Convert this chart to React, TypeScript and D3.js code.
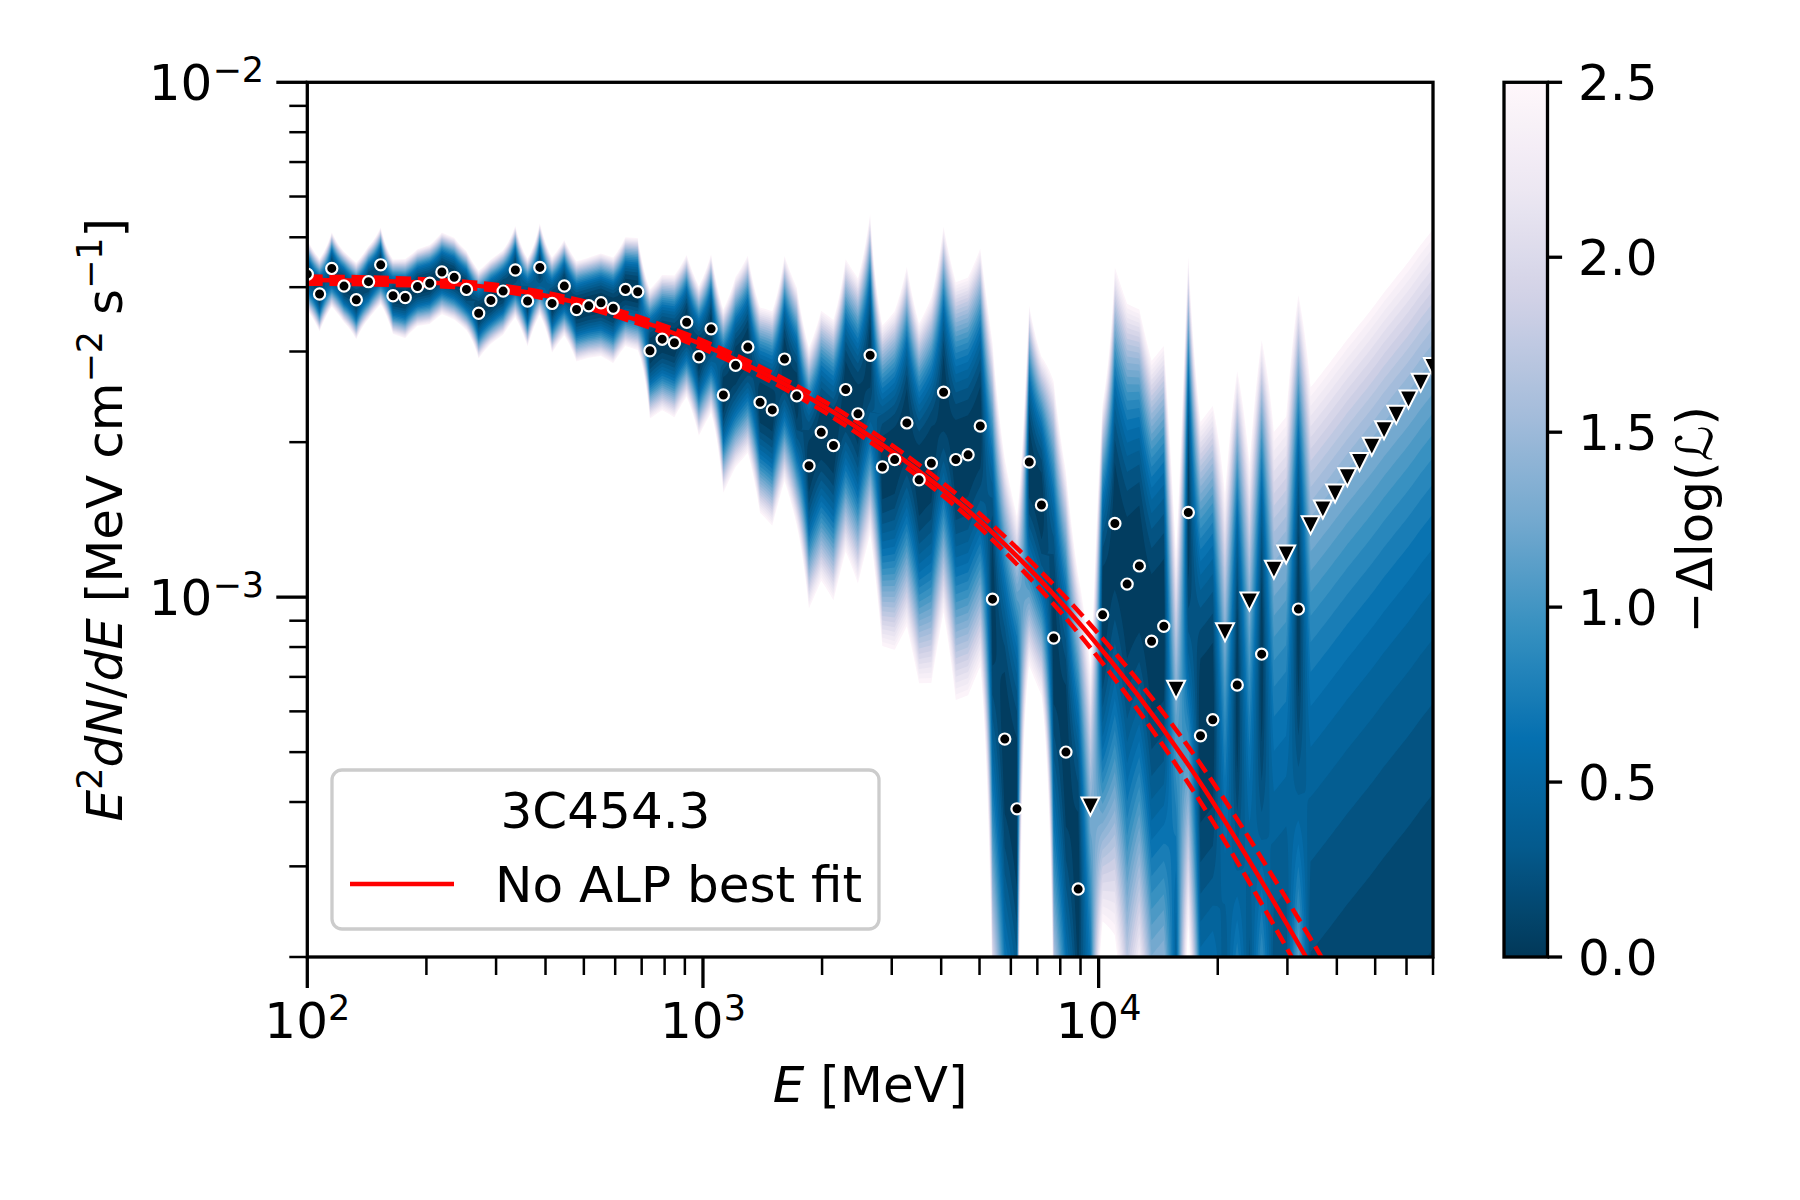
import React, { useMemo } from "react";
import * as d3 from "d3";

const width = 1800;
const height = 1200;
const plot = { left: 307.3, right: 1433, top: 82.3, bottom: 957 };
const bar = { left: 1504, right: 1547.5 };
const font = "DejaVu Sans";

// energy bin centres [MeV]
const binEnergy = [
  100, 107.4, 115.3, 123.8, 133.0, 142.8, 153.3, 164.7, 176.8, 189.9,
  203.9, 218.9, 235.1, 252.5, 271.1, 291.1, 312.6, 335.6, 360.4, 387.0,
  415.6, 446.2, 479.2, 514.5, 552.5, 593.3, 637.1, 684.1, 734.6, 788.8,
  847.0, 909.5, 976.6, 1048.7, 1126.1, 1209.2, 1298.4, 1394.2, 1497.1, 1607.6,
  1726.2, 1853.6, 1990.4, 2137.3, 2295.0, 2464.4, 2646.2, 2841.5, 3051.2, 3276.4,
  3518.2, 3777.8, 4056.6, 4356.0, 4677.4, 5022.6, 5393.2, 5791.2, 6218.6, 6677.5,
  7170.3, 7699.4, 8267.6, 8877.7, 9532.8, 10236, 10992, 11803, 12674, 13609,
  14613, 15692, 16850, 18093, 19429, 20862, 22401, 24054, 25829, 27735,
  29782, 31980, 34340, 36874, 39595, 42517, 45654, 49023, 52641, 56525,
  60697, 65176, 69985,
];

// best-fit flux per bin (upper limit value for the UL bins) [MeV cm^-2 s^-1]
const binFlux = [
  4.24e-3, 3.88e-3, 4.35e-3, 4.02e-3, 3.78e-3, 4.1e-3, 4.42e-3, 3.85e-3, 3.82e-3, 4.01e-3,
  4.07e-3, 4.28e-3, 4.18e-3, 3.96e-3, 3.56e-3, 3.77e-3, 3.93e-3, 4.32e-3, 3.76e-3, 4.37e-3,
  3.72e-3, 4.02e-3, 3.62e-3, 3.68e-3, 3.73e-3, 3.64e-3, 3.96e-3, 3.92e-3, 3.01e-3, 3.17e-3,
  3.12e-3, 3.42e-3, 2.93e-3, 3.32e-3, 2.47e-3, 2.82e-3, 3.06e-3, 2.39e-3, 2.31e-3, 2.9e-3,
  2.46e-3, 1.8e-3, 2.09e-3, 1.97e-3, 2.53e-3, 2.27e-3, 2.95e-3, 1.79e-3, 1.85e-3, 2.18e-3,
  1.69e-3, 1.82e-3, 2.5e-3, 1.85e-3, 1.89e-3, 2.15e-3, 9.91e-4, 5.3e-4, 3.88e-4, 1.83e-3,
  1.51e-3, 8.33e-4, 5.0e-4, 2.71e-4, 3.92e-4, 9.24e-4, 1.39e-3, 1.06e-3, 1.15e-3, 8.21e-4,
  8.78e-4, 6.61e-4, 1.46e-3, 5.38e-4, 5.78e-4, 8.55e-4, 6.75e-4, 9.81e-4, 7.75e-4, 1.13e-3,
  1.21e-3, 9.48e-4, 1.38e-3, 1.48e-3, 1.59e-3, 1.71e-3, 1.83e-3, 1.96e-3, 2.11e-3, 2.26e-3,
  2.42e-3, 2.61e-3, 2.8e-3,
];

// effective counts per bin, sets the width of each likelihood profile (0 for UL bins)
const binCounts = [
  200, 190, 180, 200, 170, 190, 170, 180, 160, 170,
  160, 150, 150, 160, 130, 140, 140, 120, 130, 120,
  110, 110, 100, 100, 95, 90, 85, 80, 60, 55,
  50, 50, 45, 40, 30, 28, 26, 24, 22, 20,
  18, 15, 14, 13, 12, 11, 10, 10, 9, 8,
  8, 7, 7, 6, 6, 6, 2.5, 2, 1.8, 8,
  9, 2.5, 2, 1.5, 0, 4, 2.5, 2, 2.5, 2,
  2, 0, 2.5, 1.5, 1.5, 0, 1.5, 0, 1.5, 0,
  0, 1.5, 0, 0, 0, 0, 0, 0, 0, 0,
  0, 0, 0,
];

const upperLimitBins = [64, 71, 75, 77, 79, 80, 82, 83, 84, 85, 86, 87, 88, 89, 90, 91, 92];

// No ALP best fit and its band
const fitEnergy = [100, 221, 518, 1104, 2443, 5309, 9226, 16520, 33190, 39800];
const fitFlux = [4.13e-3, 4.07e-3, 3.68e-3, 2.99e-3, 2.14e-3, 1.35e-3, 8.65e-4, 4.83e-4, 2.02e-4, 1.58e-4];
const fitErrDex = [0.007, 0.006, 0.006, 0.008, 0.011, 0.014, 0.022, 0.035, 0.05, 0.055];

const xMajorExp = { 100: "2", 1000: "3", 10000: "4" };
const yMajorExp = { "-2": "−2", "-3": "−3" };
const barTicks = [0, 0.5, 1.0, 1.5, 2.0, 2.5];
const levels = d3.range(0, 26).map((k) => k / 10);

const puBu = ["#fff7fb", "#ece7f2", "#d0d1e6", "#a6bddb", "#74a9cf", "#3690c0", "#0570b0", "#045a8d", "#023858"];
const cmap = d3.piecewise(d3.interpolateRgb, puBu.slice().reverse());

const uMin = -3.75;
const uMax = -1.9;
const ny = 371;

const App = () => {
  const x = d3.scaleLog().domain([100, 70000]).range([plot.left, plot.right]);
  const y = d3.scaleLog().domain([2e-4, 1e-2]).range([plot.bottom, plot.top]);
  const c = d3.scaleLinear().domain([0, 2.5]).range([plot.bottom, plot.top]);

  const layers = useMemo(() => {
    const nx = binEnergy.length;
    const ul = new Set(upperLimitBins);
    const values = new Array(nx * ny);
    for (let j = 0; j < ny; j++) {
      const f = Math.pow(10, uMin + (j * (uMax - uMin)) / (ny - 1));
      for (let i = 0; i < nx; i++) {
        let v;
        if (ul.has(i)) v = (1.35 * f) / binFlux[i];
        else {
          const r = f / binFlux[i];
          v = binCounts[i] * (r - 1 - Math.log(r));
        }
        values[j * nx + i] = v;
      }
    }
    const cx = d3.scaleLinear().domain([0.5, nx - 0.5]).range([x(binEnergy[0]), x(binEnergy[nx - 1])]);
    const cy = d3.scaleLinear().domain([0.5, ny - 0.5]).range([y(Math.pow(10, uMin)), y(Math.pow(10, uMax))]);
    const path = d3.geoPath(
      d3.geoTransform({
        point(px, py) {
          this.stream.point(cx(px), cy(py));
        },
      })
    );
    const contours = d3.contours().size([nx, ny]).thresholds(levels)(values);
    return contours.map((ct, k) => ({
      d: path(ct),
      fill: k < levels.length - 1 ? cmap((ct.value + 0.05) / 2.5) : "#ffffff",
    }));
  }, []);

  const line = d3
    .line()
    .x((d) => x(d[0]))
    .y((d) => y(d[1]))
    .curve(d3.curveMonotoneX);
  const fitMid = fitEnergy.map((e, i) => [e, fitFlux[i]]);
  const fitHi = fitEnergy.map((e, i) => [e, fitFlux[i] * Math.pow(10, fitErrDex[i])]);
  const fitLo = fitEnergy.map((e, i) => [e, fitFlux[i] / Math.pow(10, fitErrDex[i])]);

  const ul = new Set(upperLimitBins);
  const xTicks = x.ticks();
  const yTicks = y.ticks();
  const isMajor = (t) => Math.abs(Math.log10(t) - Math.round(Math.log10(t))) < 1e-6;
  const gradStops = d3.range(0, 41).map((k) => k / 40);

  return (
    <svg width={width} height={height} style={{ position: "absolute", left: 0, top: 0 }} fontFamily={font}>
      <rect width={width} height={height} fill="#fff" />
      <defs>
        <clipPath id="plot-clip">
          <rect x={plot.left} y={plot.top} width={plot.right - plot.left} height={plot.bottom - plot.top} />
        </clipPath>
        <linearGradient id="cbar-grad" x1="0" y1="1" x2="0" y2="0">
          {gradStops.map((t, i) => (
            <stop key={i} offset={t} stopColor={cmap(t)} />
          ))}
        </linearGradient>
      </defs>

      <g clipPath="url(#plot-clip)">
        {layers.map((l, i) => (
          <path key={i} d={l.d} fill={l.fill} />
        ))}
        <path d={line(fitHi)} fill="none" stroke="#ff0000" strokeWidth={4.5} strokeDasharray="15.4 6.7" />
        <path d={line(fitLo)} fill="none" stroke="#ff0000" strokeWidth={4.5} strokeDasharray="15.4 6.7" />
        <path d={line(fitMid)} fill="none" stroke="#ff0000" strokeWidth={4.5} />
        {binEnergy.map((e, i) =>
          ul.has(i) ? (
            <path
              key={i}
              transform={`translate(${x(e)},${y(binFlux[i])})`}
              d="M0,9L-9,-9L9,-9Z"
              fill="#000"
              stroke="#fff"
              strokeWidth={2}
            />
          ) : (
            <circle key={i} cx={x(e)} cy={y(binFlux[i])} r={5.6} fill="#000" stroke="#fff" strokeWidth={2.2} />
          )
        )}
      </g>

      {/* spines */}
      <rect
        x={plot.left}
        y={plot.top}
        width={plot.right - plot.left}
        height={plot.bottom - plot.top}
        fill="none"
        stroke="#000"
        strokeWidth={3.3}
      />

      {/* x ticks */}
      {xTicks.map((t, i) => {
        const major = isMajor(t);
        return (
          <g key={i}>
            <line
              x1={x(t)}
              x2={x(t)}
              y1={plot.bottom}
              y2={plot.bottom + (major ? 31 : 18)}
              stroke="#000"
              strokeWidth={major ? 3.3 : 2.5}
            />
            {major && (
              <text x={x(t)} y={plot.bottom + 81} textAnchor="middle" fontSize={50}>
                10
                <tspan fontSize={35} dy={-18}>
                  {xMajorExp[Math.round(t)]}
                </tspan>
              </text>
            )}
          </g>
        );
      })}

      {/* y ticks */}
      {yTicks.map((t, i) => {
        const major = isMajor(t);
        return (
          <g key={i}>
            <line
              x1={plot.left - (major ? 31 : 18)}
              x2={plot.left}
              y1={y(t)}
              y2={y(t)}
              stroke="#000"
              strokeWidth={major ? 3.3 : 2.5}
            />
            {major && (
              <text x={264} y={y(t) + 18} textAnchor="end" fontSize={50}>
                10
                <tspan fontSize={35} dy={-18}>
                  {yMajorExp[String(Math.round(Math.log10(t)))]}
                </tspan>
              </text>
            )}
          </g>
        );
      })}

      {/* axis labels */}
      <text x={(plot.left + plot.right) / 2} y={1102} textAnchor="middle" fontSize={50}>
        <tspan fontStyle="italic">E</tspan>
        {" [MeV]"}
      </text>
      <text transform={`translate(122,${(plot.top + plot.bottom) / 2}) rotate(-90)`} textAnchor="middle" fontSize={50}>
        <tspan fontStyle="italic">E</tspan>
        <tspan fontSize={35} dy={-20}>
          2
        </tspan>
        <tspan fontStyle="italic" dy={20}>
          dN
        </tspan>
        <tspan>/</tspan>
        <tspan fontStyle="italic">dE</tspan>
        <tspan>{" [MeV cm"}</tspan>
        <tspan fontSize={35} dy={-20}>
          −2
        </tspan>
        <tspan dy={20}>{" s"}</tspan>
        <tspan fontSize={35} dy={-20}>
          −1
        </tspan>
        <tspan dy={20}>]</tspan>
      </text>

      {/* colorbar */}
      <rect
        x={bar.left}
        y={plot.top}
        width={bar.right - bar.left}
        height={plot.bottom - plot.top}
        fill="url(#cbar-grad)"
        stroke="#000"
        strokeWidth={3.3}
      />
      {barTicks.map((t, i) => (
        <g key={i}>
          <line x1={bar.right} x2={bar.right + 14.6} y1={c(t)} y2={c(t)} stroke="#000" strokeWidth={3.3} />
          <text x={1578} y={c(t) + 18} fontSize={50}>
            {t.toFixed(1)}
          </text>
        </g>
      ))}
      <text transform={`translate(1712,${(plot.top + plot.bottom) / 2}) rotate(-90)`} textAnchor="middle" fontSize={50}>
        −Δlog(ℒ)
      </text>

      {/* legend */}
      <rect x={332} y={770} width={547} height={159} rx={10} fill="#fff" fillOpacity={0.8} stroke="#cccccc" strokeWidth={3.3} />
      <text x={605.5} y={828} textAnchor="middle" fontSize={50}>
        3C454.3
      </text>
      <line x1={350} x2={454} y1={884} y2={884} stroke="#ff0000" strokeWidth={4.5} />
      <text x={495} y={902} fontSize={50}>
        No ALP best fit
      </text>
    </svg>
  );
};

export default App;
